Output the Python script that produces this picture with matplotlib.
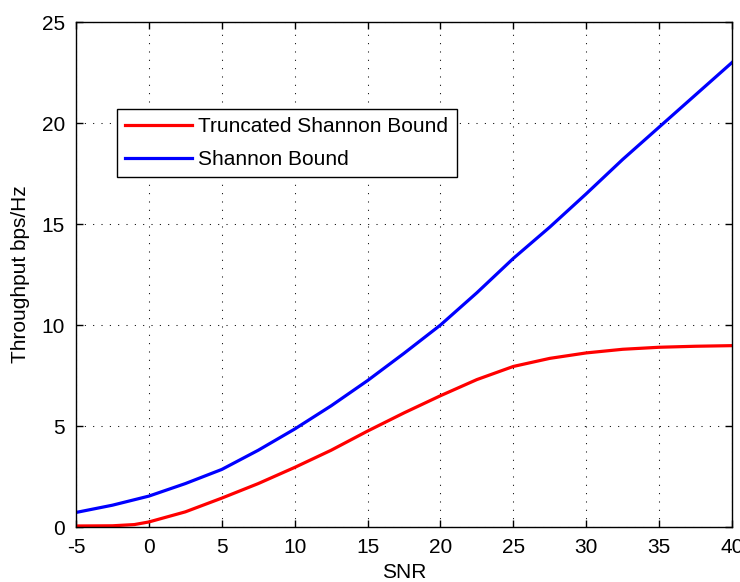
import matplotlib.pyplot as plt

snr = [-5, -2.5, -1, 0, 2.5, 5, 7.5, 10, 12.5, 15, 17.5, 20, 22.5, 25, 27.5, 30, 32.5, 35, 37.5, 40]
shannon = [0.72, 1.08, 1.35, 1.53, 2.15, 2.85, 3.8, 4.85, 6.0, 7.25, 8.6, 10.0, 11.6, 13.3, 14.85, 16.5, 18.2, 19.8, 21.4, 23.0]
truncated = [0.05, 0.06, 0.12, 0.25, 0.75, 1.43, 2.15, 2.95, 3.8, 4.75, 5.65, 6.5, 7.3, 7.95, 8.35, 8.62, 8.8, 8.9, 8.95, 8.98]

xticks = [-5, 0, 5, 10, 15, 20, 25, 30, 35, 40]
yticks = [0, 5, 10, 15, 20, 25]

plt.rcParams['font.family'] = ['Liberation Sans', 'DejaVu Sans']
plt.rcParams['font.size'] = 15
plt.rcParams['axes.unicode_minus'] = False

fig = plt.figure(figsize=(7.4, 5.82), dpi=100)
ax = fig.add_axes([0.1027, 0.0945, 0.8865, 0.8675])

ax.plot(snr, truncated, color='#ff0000', lw=2.3, label='Truncated Shannon Bound')
ax.plot(snr, shannon, color='#0000ff', lw=2.3, label='Shannon Bound')

ax.set_xlim(-5, 40)
ax.set_ylim(0, 25)
ax.set_xticks(xticks)
ax.set_yticks(yticks)
ax.tick_params(direction='in', length=5, width=1, top=True, right=True, pad=8, labelsize=15)
ax.grid(True, color='black', linestyle=(0, (1, 7)), linewidth=0.75)
for s in ax.spines.values():
    s.set_linewidth(1)

ax.set_xlabel('SNR', fontsize=15, labelpad=4)
ax.set_ylabel('Throughput bps/Hz', fontsize=15, labelpad=8)

leg = ax.legend(loc='upper left', bbox_to_anchor=(0.0625, 0.828), fancybox=False,
                framealpha=1, edgecolor='black', handlelength=3.2, handletextpad=0.3,
                borderpad=0.4, labelspacing=0.65, borderaxespad=0)
leg.get_frame().set_linewidth(1)

fig.savefig('out.png', dpi=100)
